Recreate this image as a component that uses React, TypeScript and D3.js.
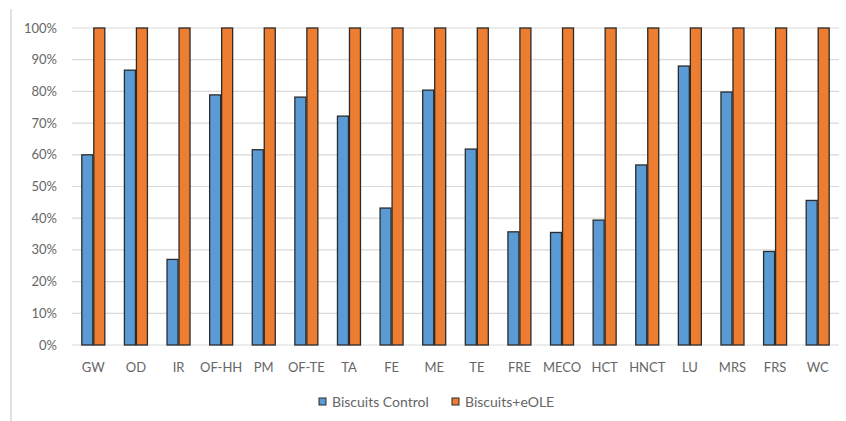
import React from "react";
import * as d3 from "d3";

const categories = ["GW","OD","IR","OF-HH","PM","OF-TE","TA","FE","ME","TE","FRE","MECO","HCT","HNCT","LU","MRS","FRS","WC"];
const controlValues = [60, 86.7, 27, 78.9, 61.6, 78.2, 72.2, 43.2, 80.4, 61.8, 35.7, 35.5, 39.4, 56.8, 88, 79.8, 29.5, 45.6];
const eoleValues = [100,100,100,100,100,100,100,100,100,100,100,100,100,100,100,100,100,100];
const seriesNames = ["Biscuits Control", "Biscuits+eOLE"];
const seriesColors = ["#5b9bd5", "#ed7d31"];
const yTicks = [0,10,20,30,40,50,60,70,80,90,100];

export default function App() {
  const W = 846, H = 421;
  const left = 72, right = 839, top = 28, bottom = 345;
  const x = d3.scaleBand<string>().domain(categories).range([left, right]).paddingInner(0).paddingOuter(0);
  const y = d3.scaleLinear().domain([0, 100]).range([bottom, top]);
  const barW = 11;
  const font = "Lato, 'Open Sans', sans-serif";
  const textColor = "#666666";
  const series = [controlValues, eoleValues];
  return (
    <svg width={W} height={H} style={{ position: "absolute", left: 0, top: 0, background: "#fff" }}>
      <line x1={11} x2={11} y1={9} y2={421} stroke="#d9d9d9" strokeWidth={1.5} />
      {yTicks.map((t) => (
        <g key={t}>
          <line x1={left} x2={right} y1={y(t)} y2={y(t)} stroke="#d9d9d9" strokeWidth={1.2} />
          <text x={57} y={y(t)} dy="0.35em" textAnchor="end" fontFamily={font} fontSize={13} fill={textColor}>{t}%</text>
        </g>
      ))}
      {categories.map((c, i) => {
        const cx = (x(c) as number) + x.bandwidth() / 2;
        return (
          <g key={c}>
            {series.map((vals, s) => (
              <rect key={s} x={s === 0 ? cx - barW - 0.5 : cx + 0.5} y={y(vals[i])} width={barW} height={bottom - y(vals[i])}
                fill={seriesColors[s]} stroke="#2b2b2b" strokeWidth={1.3} />
            ))}
            <text x={cx} y={367} dy="0.35em" textAnchor="middle" fontFamily={font} fontSize={13} fill={textColor}>{c}</text>
          </g>
        );
      })}
      <g>
        <rect x={319} y={398} width={7} height={7} fill={seriesColors[0]} stroke="#2b2b2b" strokeWidth={1} />
        <text x={332} y={402} dy="0.35em" fontFamily={font} fontSize={14} fill={textColor}>{seriesNames[0]}</text>
        <rect x={452} y={398} width={7} height={7} fill={seriesColors[1]} stroke="#2b2b2b" strokeWidth={1} />
        <text x={465} y={402} dy="0.35em" fontFamily={font} fontSize={14} fill={textColor}>{seriesNames[1]}</text>
      </g>
    </svg>
  );
}
